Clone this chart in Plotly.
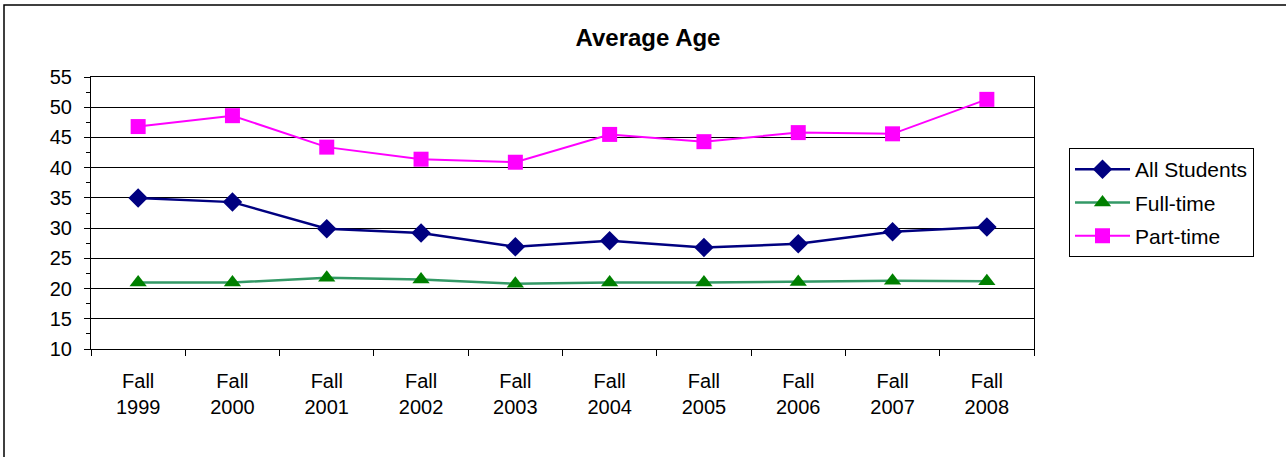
import plotly.graph_objects as go

categories = ["Fall<br>1999", "Fall<br>2000", "Fall<br>2001", "Fall<br>2002", "Fall<br>2003",
              "Fall<br>2004", "Fall<br>2005", "Fall<br>2006", "Fall<br>2007", "Fall<br>2008"]
all_students = [35.0, 34.3, 29.9, 29.2, 26.9, 27.9, 26.8, 27.4, 29.4, 30.2]
full_time = [21.0, 21.0, 21.8, 21.5, 20.8, 21.0, 21.0, 21.1, 21.3, 21.2]
part_time = [46.8, 48.6, 43.4, 41.4, 40.9, 45.5, 44.3, 45.8, 45.6, 51.3]

FONT = "Liberation Sans, Arial, sans-serif"

fig = go.Figure()
fig.add_trace(go.Scatter(
    x=categories, y=all_students, name="All Students", mode="lines+markers",
    line=dict(color="#000080", width=2.5),
    marker=dict(symbol="diamond", size=15, color="#000080"),
    legendgroup="a"))
fig.add_trace(go.Scatter(
    x=categories, y=full_time, name="Full-time", mode="lines+markers",
    line=dict(color="#339966", width=2.5),
    marker=dict(symbol="triangle-up", size=15, color="#008000"),
    legendgroup="b"))
fig.add_trace(go.Scatter(
    x=categories, y=part_time, name="Part-time", mode="lines+markers",
    line=dict(color="#FF00FF", width=2),
    marker=dict(symbol="square", size=15, color="#FF00FF"),
    legendgroup="c"))

L, R, T, B = 91, 252, 77, 108
W, H = 1286, 457
pw, ph = W - L - R, H - T - B

def px_x(p):
    return (p - L) / pw

def px_y(p):
    return (H - B - p) / ph

fig.update_layout(
    width=W, height=H,
    margin=dict(l=L, r=R, t=T, b=B, autoexpand=False),
    paper_bgcolor="white", plot_bgcolor="white",
    font=dict(family=FONT, size=20, color="black"),
    title=dict(text="<b>Average Age</b>", x=648 / W, xanchor="center",
               y=1 - 38 / H, yanchor="middle",
               font=dict(family=FONT, size=24, color="black")),
    showlegend=True,
    legend=dict(x=px_x(1069), y=px_y(148), xanchor="left", yanchor="top",
                bordercolor="black", borderwidth=1, bgcolor="white",
                font=dict(family=FONT, size=21, color="black"),
                tracegroupgap=3, itemwidth=55, traceorder="grouped"),
    shapes=[dict(type="rect", xref="paper", yref="paper",
                 x0=px_x(4), x1=px_x(1300), y0=px_y(470), y1=px_y(5),
                 line=dict(color="black", width=1.5), layer="below")],
)

fig.update_xaxes(
    type="category", range=[-0.5, 9.5], tickson="boundaries", ticks="outside", ticklen=6,
    tickcolor="black", showline=True, linecolor="black", linewidth=1,
    mirror=True, showgrid=False, ticklabelstandoff=14,
    tickfont=dict(family=FONT, size=20, color="black"))
fig.update_yaxes(
    range=[10, 55], dtick=5, tick0=10, ticks="outside", ticklen=6,
    tickcolor="black", showline=True, linecolor="black", linewidth=1,
    mirror=True, showgrid=True, gridcolor="black", gridwidth=1,
    zeroline=False, ticklabelstandoff=8,
    minor=dict(dtick=2.5, ticks="outside", ticklen=4, tickcolor="black", showgrid=False),
    tickfont=dict(family=FONT, size=20, color="black"))

fig.write_html("out.html", config={"displayModeBar": False},
               post_script="document.body.style.margin='0px';document.body.style.overflow='hidden';")
